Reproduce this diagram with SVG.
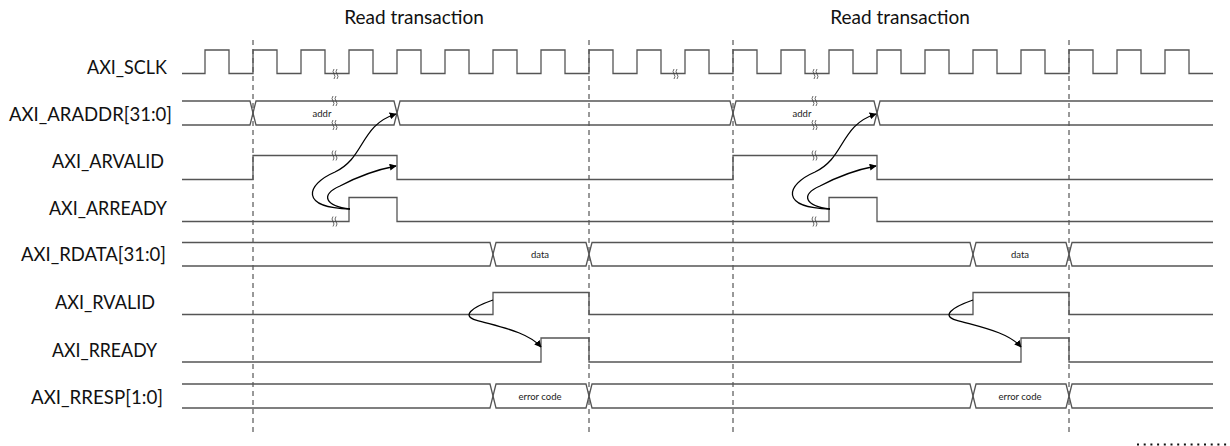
<svg xmlns="http://www.w3.org/2000/svg" width="1230" height="446" viewBox="0 0 1230 446">
<style>
.sig{fill:none;stroke:#555;stroke-width:1.3}
.dash{fill:none;stroke:#333;stroke-width:1;stroke-dasharray:5 4}
.lbl{font-family:Lato,"Liberation Sans",sans-serif;font-size:18.5px;fill:#111}
.ttl{font-family:Lato,"Liberation Sans",sans-serif;font-size:19px;fill:#111;text-anchor:middle}
.small{font-family:Lato,"Liberation Sans",sans-serif;font-size:9.5px;fill:#222;text-anchor:middle}
.arr{fill:none;stroke:#000;stroke-width:1.3;marker-end:url(#ah)}
.brk{fill:none;stroke:#444;stroke-width:0.8}
</style>
<defs>
<marker id="ah" viewBox="0 0 10 10" refX="9" refY="5" markerWidth="7" markerHeight="7" markerUnits="userSpaceOnUse" orient="auto">
<path d="M0,0 L10,5 L0,10 z" fill="#000"/>
</marker>
<g id="bm">
<path class="brk" d="M-1,-5 q-2,2.5 0,5 q2,2.5 0,5"/>
<path class="brk" d="M2,-5 q-2,2.5 0,5 q2,2.5 0,5"/>
</g>
</defs>
<rect width="1230" height="446" fill="#fff"/>

<g id="titles">
<text class="ttl" x="414" y="24">Read transaction</text>
<text class="ttl" x="900" y="24">Read transaction</text>
</g>

<g id="labels">
<text class="lbl" x="87" y="74" textLength="80" lengthAdjust="spacingAndGlyphs">AXI_SCLK</text>
<text class="lbl" x="9" y="121" textLength="163" lengthAdjust="spacingAndGlyphs">AXI_ARADDR[31:0]</text>
<text class="lbl" x="52" y="168" textLength="112" lengthAdjust="spacingAndGlyphs">AXI_ARVALID</text>
<text class="lbl" x="49" y="215" textLength="118" lengthAdjust="spacingAndGlyphs">AXI_ARREADY</text>
<text class="lbl" x="21" y="261" textLength="145" lengthAdjust="spacingAndGlyphs">AXI_RDATA[31:0]</text>
<text class="lbl" x="55" y="309" textLength="100" lengthAdjust="spacingAndGlyphs">AXI_RVALID</text>
<text class="lbl" x="52" y="357" textLength="105" lengthAdjust="spacingAndGlyphs">AXI_RREADY</text>
<text class="lbl" x="31" y="404" textLength="132" lengthAdjust="spacingAndGlyphs">AXI_RRESP[1:0]</text>
</g>

<g id="dashed-lines">
<line class="dash" x1="253" y1="40" x2="253" y2="432"/>
<line class="dash" x1="589" y1="40" x2="589" y2="432"/>
<line class="dash" x1="733" y1="40" x2="733" y2="432"/>
<line class="dash" x1="1069" y1="40" x2="1069" y2="432"/>
</g>

<g id="AXI_SCLK">
<path class="sig" d="M182,73.5 H205 V50 H229 V73.5 H253 V50 H277 V73.5 H301 V50 H325 V73.5 H349 V50 H373 V73.5 H397 V50 H421 V73.5 H445 V50 H469 V73.5 H493 V50 H517 V73.5 H541 V50 H565 V73.5 H589 V50 H613 V73.5 H637 V50 H661 V73.5 H685 V50 H709 V73.5 H733 V50 H757 V73.5 H781 V50 H805 V73.5 H829 V50 H853 V73.5 H877 V50 H901 V73.5 H925 V50 H949 V73.5 H973 V50 H997 V73.5 H1021 V50 H1045 V73.5 H1069 V50 H1093 V73.5 H1117 V50 H1141 V73.5 H1165 V50 H1189 V73.5 H1213"/>
<use href="#bm" x="335" y="74"/>
<use href="#bm" x="675" y="74"/>
<use href="#bm" x="815" y="74"/>
</g>

<g id="AXI_ARADDR">
<path class="sig" d="M182,101 H250 L256,125 H394 L400,101 H730 L736,125 H874 L880,101 H1213"/>
<path class="sig" d="M182,125 H250 L256,101 H394 L400,125 H730 L736,101 H874 L880,125 H1213"/>
<text class="small" x="322" y="117">addr</text>
<text class="small" x="802" y="117">addr</text>
<use href="#bm" x="334" y="101"/>
<use href="#bm" x="334" y="125"/>
<use href="#bm" x="814" y="101"/>
<use href="#bm" x="814" y="125"/>
</g>

<g id="AXI_ARVALID">
<path class="sig" d="M182,179.5 H253 V155.5 H397 V179.5 H733 V155.5 H877 V179.5 H1213"/>
<use href="#bm" x="334" y="155.5"/>
<use href="#bm" x="814" y="155.5"/>
</g>

<g id="AXI_ARREADY">
<path class="sig" d="M182,221.5 H349 V197.5 H397 V221.5 H829 V197.5 H877 V221.5 H1213"/>
<use href="#bm" x="334" y="221.5"/>
<use href="#bm" x="814" y="221.5"/>
</g>

<g id="AXI_RDATA">
<path class="sig" d="M182,242.5 H490 L496,266 H586 L592,242.5 H970 L976,266 H1066 L1072,242.5 H1213"/>
<path class="sig" d="M182,266 H490 L496,242.5 H586 L592,266 H970 L976,242.5 H1066 L1072,266 H1213"/>
<text class="small" x="540" y="258">data</text>
<text class="small" x="1020" y="258">data</text>
</g>

<g id="AXI_RVALID">
<path class="sig" d="M182,314.5 H493 V292.5 H589 V314.5 H973 V292.5 H1069 V314.5 H1213"/>
</g>

<g id="AXI_RREADY">
<path class="sig" d="M182,362 H541 V338 H589 V362 H1021 V338 H1069 V362 H1213"/>
</g>

<g id="AXI_RRESP">
<path class="sig" d="M182,384 H490 L496,408 H586 L592,384 H970 L976,408 H1066 L1072,384 H1213"/>
<path class="sig" d="M182,408 H490 L496,384 H586 L592,408 H970 L976,384 H1066 L1072,408 H1213"/>
<text class="small" x="540" y="399.5">error code</text>
<text class="small" x="1020" y="399.5">error code</text>
</g>

<g id="connectors">
<path class="arr" d="M350,209 C300,208 305,185 335,172 C365,158 360,125 396,114"/>
<path class="arr" d="M350,209 C325,206 320,195 340,186 C355,178 375,170 396,166"/>
<path class="arr" d="M493,300 C470,308 462,316 476,320 C500,327 528,332 541,347"/>
<path class="arr" d="M830,209 C780,208 785,185 815,172 C845,158 840,125 876,114"/>
<path class="arr" d="M830,209 C805,206 800,195 820,186 C835,178 855,170 876,166"/>
<path class="arr" d="M973,300 C950,308 942,316 956,320 C980,327 1008,332 1021,347"/>
</g>

<line x1="1137" y1="444.5" x2="1230" y2="444.5" stroke="#111" stroke-width="2" stroke-dasharray="2 4.7"/>
</svg>
